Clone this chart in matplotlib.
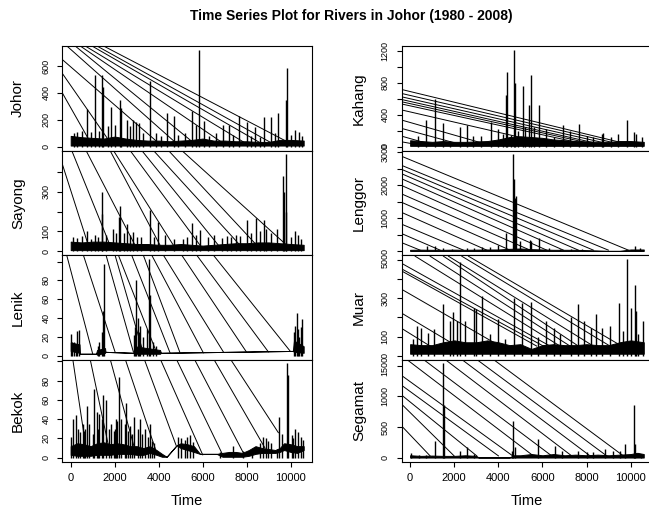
#!/usr/bin/env python3
"""Daily flow series for eight Johor rivers, 1980-2008, drawn R plot.ts style."""

import matplotlib
matplotlib.use("Agg")
import matplotlib.pyplot as plt

plt.rcParams["font.family"] = ["Liberation Sans", "DejaVu Sans"]

TITLE = "Time Series Plot for Rivers in Johor (1980 - 2008)"
XTICKS = [0, 2000, 4000, 6000, 8000, 10000]
XLIM = (-382, 10955)

# --- Johor ---
johor_band_t = [0, 500, 1000, 1500, 2000, 2500, 3000, 3500, 4000, 4500, 5000,
                5500, 6000, 6500, 7000, 7500, 8000, 8500, 9000, 9500, 10000, 10590]
johor_band_hi = [80, 70, 65, 60, 75, 60, 50, 45, 45, 40, 45, 50, 60, 45, 45,
                 40, 40, 35, 35, 50, 50, 45]
johor_band_lo = 8
johor_spike_t = [150, 300, 500, 727, 900, 1105, 1300, 1438, 1470, 1700, 1818,
                 2000, 2241, 2300, 2545, 2700, 2848, 2950, 3100, 3300, 3605,
                 3900, 4100, 4364, 4697, 4900, 5200, 5500, 5700, 5848, 6060,
                 6300, 6600, 6909, 7212, 7400, 7667, 8000, 8200, 8379, 8600,
                 8786, 9090, 9300, 9439, 9788, 9848, 10000, 10212, 10400, 10530]
johor_spike_v = [100, 110, 120, 280, 110, 532, 120, 530, 440, 150, 295, 160,
                 345, 290, 200, 150, 195, 180, 175, 100, 490, 100, 80, 250, 225,
                 90, 100, 265, 160, 720, 190, 80, 100, 158, 160, 90, 225, 180,
                 80, 145, 70, 220, 220, 100, 250, 350, 583, 90, 125, 110, 80]
johor_d_t0 = [-382, -382, -382, -182, 195, 423, 650, 955, 1182, 1482]
johor_d_v0 = [400, 545, 648, 750, 750, 750, 750, 750, 750, 750]
johor_d_t1 = [900, 1800, 3900, 4700, 5500, 6800, 7900, 8600, 9100, 9800]
johor_d_v1 = [30, 30, 40, 40, 40, 40, 30, 30, 30, 40]

# --- Sayong ---
sayong_band_t = johor_band_t
sayong_band_hi = [48, 44, 48, 48, 44, 40, 36, 36, 32, 32, 36, 32, 28, 32, 36,
                  40, 40, 44, 44, 40, 36, 32]
sayong_band_lo = 5
sayong_spike_t = [100, 300, 500, 727, 900, 1100, 1250, 1409, 1440, 1600, 1900,
                  2050, 2180, 2241, 2400, 2545, 2700, 2848, 3000, 3200, 3605,
                  3800, 3988, 4300, 4697, 5100, 5300, 5500, 5700, 5879, 6250,
                  6500, 6900, 7100, 7300, 7500, 7700, 8030, 8200, 8424, 8600,
                  8788, 8900, 9100, 9364, 9636, 9700, 9773, 9800, 10000, 10212,
                  10330, 10450]
sayong_spike_v = [70, 65, 75, 100, 60, 80, 70, 298, 190, 80, 110, 90, 170, 230,
                  90, 135, 80, 95, 70, 70, 207, 70, 147, 80, 60, 60, 70, 140, 80,
                  105, 70, 80, 65, 75, 70, 80, 75, 155, 90, 167, 100, 155, 110,
                  90, 110, 380, 300, 489, 200, 70, 100, 80, 60]
sayong_d_t0 = [-382, 45, 695, 1786, 1939, 2697, 3227, 3758, 4440, 5045]
sayong_d_v0 = [440, 509, 509, 509, 509, 509, 509, 509, 509, 509]
sayong_d_t1 = [800, 1786, 2924, 4061, 4667, 5879, 6712, 7697, 8455, 9818]
sayong_d_v1 = [30, 30, 30, 30, 30, 30, 30, 30, 30, 30]

# --- Lenik ---
lenik_band_t = [0, 400, 420, 1150, 1200, 1560, 1580, 2850, 2900, 4060, 4100,
                10100, 10150, 10590]
lenik_band_lo = [5, 3, 2, 2, 1, 3, 4, 3, 2, 2, 3, 5, 4, 3]
lenik_band_hi = [14, 12, 2, 2, 6, 8, 4, 3, 10, 6, 3, 5, 16, 10]
lenik_spike_t = [20, 80, 150, 220, 300, 360, 1220, 1300, 1400, 1480, 1514,
                 2880, 2930, 2968, 3050, 3100, 3150, 3300, 3450, 3573, 3620,
                 3750, 3900, 10150, 10195, 10273, 10330, 10380, 10450, 10530]
lenik_spike_v = [23, 14, 15, 12, 26, 27, 10, 14, 25, 47, 98, 22, 30, 80, 40,
                 25, 32, 20, 28, 103, 65, 15, 10, 25, 32, 45, 28, 20, 30, 39]
lenik_d_t0 = [-182, 576, 1606, 2015, 2167, 2771, 3300, 3682, 4212, 5045, 5727,
              6485]
lenik_d_v0 = [107] * 12
lenik_d_t1 = [998, 2015, 2848, 3300, 3909, 4515, 4970, 6030, 6939, 7985, 8985,
              9970]
lenik_d_v1 = [2, 4, 4, 3, 3, 3, 3, 3, 4, 4, 4, 5]

# --- Bekok ---
bekok_band_t = [0, 300, 600, 900, 1200, 1500, 1800, 2100, 2400, 2700, 3000,
                3300, 3600, 3900, 4150, 4360, 4818, 5000, 5300, 5600, 5879,
                6636, 6900, 7200, 7500, 7800, 8100, 8400, 8700, 9000, 9300,
                9500, 9700, 10000, 10300, 10590]
bekok_band_lo = [3, 2, 2, 2, 3, 3, 3, 4, 4, 4, 3, 3, 5, 3, 1, 1, 13, 10, 8, 6,
                 4, 4, 1, 1, 1, 1, 2, 4, 5, 5, 5, 6, 8, 6, 5, 8]
bekok_band_hi = [12, 15, 14, 12, 15, 16, 14, 15, 14, 12, 12, 10, 12, 8, 4, 1,
                 13, 15, 14, 12, 4, 4, 5, 6, 6, 5, 8, 12, 10, 9, 8, 10, 15, 14,
                 12, 12]
bekok_spike_t = [0, 100, 242, 350, 423, 550, 600, 650, 756, 850, 1000, 1075,
                 1180, 1250, 1300, 1400, 1484, 1600, 1750, 1833, 1950, 2000,
                 2050, 2121, 2212, 2300, 2450, 2515, 2600, 2697, 2800, 2879,
                 3050, 3152, 3250, 3400, 3500, 3606, 3682, 3800, 4900, 5000,
                 5200, 5300, 5424, 5576, 6788, 7394, 7848, 8227, 8600, 8758,
                 8900, 8985, 9100, 9364, 9485, 9600, 9818, 9894, 10045, 10100,
                 10197, 10348, 10450, 10560]
bekok_spike_v = [22, 40, 44, 30, 27, 35, 28, 30, 54, 35, 25, 71, 47, 30, 45,
                 40, 65, 60, 30, 35, 28, 30, 40, 38, 84, 40, 35, 57, 28, 33, 25,
                 42, 30, 40, 25, 30, 22, 35, 17, 15, 22, 20, 18, 22, 24, 16, 6,
                 12, 7, 4, 15, 22, 20, 17, 15, 9, 42, 25, 98, 86, 24, 20, 30,
                 27, 22, 18]
bekok_d_t0 = [89, 877, 1786, 2468, 3332, 4060, 4788, 5606, 6485, 7242]
bekok_d_v0 = [103] * 10
bekok_d_t1 = [727, 1786, 2921, 3909, 4788, 6000, 6909, 7894, 8833, 9439]
bekok_d_v1 = [5, 5, 8, 5, 13, 3, 3, 3, 10, 26]

# --- Kahang ---
kahang_band_t = johor_band_t
kahang_band_hi = [80, 70, 60, 70, 60, 60, 65, 70, 90, 120, 130, 120, 110, 90,
                  80, 70, 65, 60, 60, 70, 70, 60]
kahang_band_lo = 10
kahang_spike_t = [377, 725, 1133, 1480, 1800, 2265, 2568, 2870, 3200, 3655,
                  4003, 4200, 4350, 4380, 4550, 4697, 4743, 4900, 5106, 5200,
                  5407, 5483, 5600, 5845, 6162, 6500, 6918, 7253, 7673, 8000,
                  8300, 8685, 8750, 9100, 9440, 9818, 10150, 10250, 10526]
kahang_spike_v = [139, 329, 595, 295, 70, 245, 270, 139, 139, 308, 220, 160,
                  645, 941, 140, 1215, 793, 200, 760, 245, 519, 899, 245, 519,
                  220, 127, 270, 200, 278, 139, 120, 160, 170, 127, 160, 329,
                  180, 160, 120]
kahang_d_t0 = [-376] * 11
kahang_d_v0 = [717, 667, 625, 591, 563, 535, 460, 333, 228, 131, 60]
kahang_d_t1 = [9591, 9213, 8760, 8307, 8005, 7627, 6041, 3323, 2115, 906, 227]
kahang_d_v1 = [50, 50, 50, 50, 50, 50, 50, 40, 40, 30, 30]

# --- Lenggor ---
lenggor_band_t = johor_band_t
lenggor_band_hi = [40, 45, 40, 40, 45, 40, 45, 50, 50, 70, 80, 60, 50, 40, 40,
                   40, 30, 20, 10, 10, 50, 50]
lenggor_band_lo = 5
lenggor_spike_t = [755, 1133, 1510, 1888, 2568, 2900, 3247, 3625, 4003, 4350,
                   4683, 4720, 4760, 4803, 5000, 5437, 5500, 5860, 6300, 6800,
                   7300, 7800, 10195, 10400]
lenggor_spike_v = [150, 170, 100, 70, 100, 80, 120, 130, 200, 560, 2935, 2200,
                   1600, 1682, 300, 327, 300, 388, 80, 70, 60, 50, 150, 90]
lenggor_d_t0 = [-376] * 12
lenggor_d_v0 = [2875, 2599, 2477, 2345, 2192, 1988, 1733, 1478, 1172, 815, 530,
                255]
lenggor_d_t1 = [9894, 8987, 8307, 7627, 6948, 6193, 5437, 4531, 3474, 2417,
                1359, 453]
lenggor_d_v1 = [30] * 12

# --- Muar ---
muar_band_t = johor_band_t
muar_band_hi = [60, 55, 55, 70, 80, 70, 70, 80, 70, 55, 60, 35, 55, 60, 55, 55,
                60, 55, 55, 70, 80, 70]
muar_band_lo = 10
muar_spike_t = [150, 332, 500, 800, 1100, 1510, 1800, 1950, 2115, 2265, 2500,
                2900, 3000, 3247, 3600, 4003, 4300, 4712, 5059, 5483, 5800,
                6162, 6500, 6800, 7280, 7627, 7900, 8200, 8428, 8700, 9062,
                9485, 9650, 9818, 10000, 10195, 10230, 10350, 10543]
muar_spike_v = [87, 156, 147, 120, 140, 269, 180, 226, 180, 490, 180, 252, 243,
                312, 113, 191, 87, 304, 278, 281, 100, 180, 147, 113, 200, 269,
                180, 147, 217, 147, 156, 278, 130, 507, 252, 368, 235, 113, 180]
muar_d_t0 = [-376, -376, -376, -376, -376, -376, 227, 906, 1510, 1737, 2341,
             2643]
muar_d_v0 = [142, 222, 347, 443, 454, 483, 521, 521, 521, 521, 521, 521]
muar_d_t1 = [906, 2115, 4078, 5739, 6041, 6343, 6797, 7250, 7627, 8307, 9062,
             9591]
muar_d_v1 = [50] * 12

# --- Segamat ---
segamat_band_t = [0, 500, 1000, 1500, 2000, 2500, 3000, 3100, 4500, 4700, 5000,
                  5500, 6000, 6500, 7000, 7500, 8000, 8500, 9000, 9500, 10000,
                  10300, 10590]
segamat_band_hi = [40, 30, 35, 30, 30, 40, 30, 5, 5, 40, 40, 60, 40, 60, 40,
                   50, 40, 50, 40, 50, 60, 80, 60]
segamat_band_lo = 3
segamat_spike_t = [60, 400, 700, 1133, 1510, 1530, 2265, 2568, 2900, 4600,
                   4652, 4750, 5815, 6570, 6900, 7627, 8000, 8300, 8836, 9200,
                   9500, 9742, 10150, 10200, 10450]
segamat_spike_v = [70, 40, 40, 266, 1542, 860, 117, 181, 64, 106, 595, 170,
                   303, 197, 117, 117, 90, 90, 144, 106, 106, 223, 861, 223, 64]
segamat_d_t0 = [-376, -376, -376, -376, -376, -151, 604, 1586, 2341, 3021, 3776]
segamat_d_v0 = [515, 871, 1020, 1180, 1340, 1604, 1604, 1604, 1604, 1604, 1604]
segamat_d_t1 = [906, 1994, 3021, 4003, 4652, 5588, 6420, 7325, 8156, 8911, 9667]
segamat_d_v1 = [30] * 11

# y ticks and which of them R kept a label for
johor_yticks, johor_ylabels = [0, 200, 400, 600], ["0", "200", "400", "600"]
sayong_yticks, sayong_ylabels = [0, 100, 200, 300, 400], ["0", "100", "", "300", ""]
lenik_yticks, lenik_ylabels = [0, 20, 40, 60, 80, 100], ["0", "20", "40", "60", "80", ""]
bekok_yticks, bekok_ylabels = [0, 20, 40, 60, 80, 100], ["0", "20", "40", "60", "80", ""]
kahang_yticks = [0, 200, 400, 600, 800, 1000, 1200]
kahang_ylabels = ["0", "", "400", "", "800", "", "1200"]
lenggor_yticks = [0, 500, 1000, 1500, 2000, 2500, 3000]
lenggor_ylabels = ["0", "", "1000", "", "2000", "", "3000"]
muar_yticks = [0, 100, 200, 300, 400, 500]
muar_ylabels = ["0", "100", "", "300", "", "500"]
segamat_yticks = [0, 500, 1000, 1500]
segamat_ylabels = ["0", "500", "1000", "1500"]


def draw_panel(ax, name, band_t, band_lo, band_hi, spike_t, spike_v,
               d_t0, d_v0, d_t1, d_v1, yticks, ylabels):
    ax.fill_between(band_t, band_lo, band_hi, color="black", linewidth=0.7)
    ax.vlines(spike_t, 0, spike_v, color="black", linewidth=1.0)
    for t0, v0, t1, v1 in zip(d_t0, d_v0, d_t1, d_v1):
        ax.plot([t0, t1], [v0, v1], color="black", linewidth=0.7)

    top = max(max(spike_v), max(band_hi))
    ax.set_xlim(*XLIM)
    ax.set_ylim(-0.04 * top, 1.04 * top)
    ax.set_yticks(yticks)
    ax.set_yticklabels(ylabels)
    ax.tick_params(axis="y", direction="out", length=3.6, width=0.8,
                   labelsize=6.5, pad=5, labelrotation=90)
    for lbl in ax.get_yticklabels():
        lbl.set_verticalalignment("center")
    for sp in ax.spines.values():
        sp.set_linewidth(0.8)
    return ax


def main():
    W, H = 649, 511
    fig = plt.figure(figsize=(W / 100, H / 100), dpi=100)

    col_x0 = [62.3, 401.7]
    col_x1 = [311.7, 651.8]
    rows = [46, 150.5, 255, 359.5, 461.5]
    name_x = [18, 359]

    panels = [
        [("Johor", johor_band_t, johor_band_lo, johor_band_hi, johor_spike_t,
          johor_spike_v, johor_d_t0, johor_d_v0, johor_d_t1, johor_d_v1,
          johor_yticks, johor_ylabels),
         ("Sayong", sayong_band_t, sayong_band_lo, sayong_band_hi,
          sayong_spike_t, sayong_spike_v, sayong_d_t0, sayong_d_v0,
          sayong_d_t1, sayong_d_v1, sayong_yticks, sayong_ylabels),
         ("Lenik", lenik_band_t, lenik_band_lo, lenik_band_hi, lenik_spike_t,
          lenik_spike_v, lenik_d_t0, lenik_d_v0, lenik_d_t1, lenik_d_v1,
          lenik_yticks, lenik_ylabels),
         ("Bekok", bekok_band_t, bekok_band_lo, bekok_band_hi, bekok_spike_t,
          bekok_spike_v, bekok_d_t0, bekok_d_v0, bekok_d_t1, bekok_d_v1,
          bekok_yticks, bekok_ylabels)],
        [("Kahang", kahang_band_t, kahang_band_lo, kahang_band_hi,
          kahang_spike_t, kahang_spike_v, kahang_d_t0, kahang_d_v0,
          kahang_d_t1, kahang_d_v1, kahang_yticks, kahang_ylabels),
         ("Lenggor", lenggor_band_t, lenggor_band_lo, lenggor_band_hi,
          lenggor_spike_t, lenggor_spike_v, lenggor_d_t0, lenggor_d_v0,
          lenggor_d_t1, lenggor_d_v1, lenggor_yticks, lenggor_ylabels),
         ("Muar", muar_band_t, muar_band_lo, muar_band_hi, muar_spike_t,
          muar_spike_v, muar_d_t0, muar_d_v0, muar_d_t1, muar_d_v1,
          muar_yticks, muar_ylabels),
         ("Segamat", segamat_band_t, segamat_band_lo, segamat_band_hi,
          segamat_spike_t, segamat_spike_v, segamat_d_t0, segamat_d_v0,
          segamat_d_t1, segamat_d_v1, segamat_yticks, segamat_ylabels)],
    ]

    for c, column in enumerate(panels):
        for r, spec in enumerate(column):
            left = col_x0[c] / W
            width = (col_x1[c] - col_x0[c]) / W
            bottom = 1 - rows[r + 1] / H
            height = (rows[r + 1] - rows[r]) / H
            ax = fig.add_axes([left, bottom, width, height])
            draw_panel(ax, *spec)
            yc = (rows[r] + rows[r + 1]) / 2
            fig.text(name_x[c] / W, 1 - yc / H, spec[0], rotation=90,
                     ha="center", va="center", fontsize=11)
            if r == len(column) - 1:
                ax.set_xticks(XTICKS)
                ax.tick_params(axis="x", direction="out", length=3.6,
                               width=0.8, labelsize=8, pad=5)
                xc = (col_x0[c] + col_x1[c]) / 2
                fig.text(xc / W, 1 - 501 / H, "Time", ha="center",
                         va="center", fontsize=10.5)
            else:
                ax.set_xticks([])

    fig.text(351 / W, 1 - 16 / H, TITLE, ha="center", va="center",
             fontsize=10, fontweight="bold")

    fig.savefig("out.png", dpi=100)


if __name__ == "__main__":
    main()
